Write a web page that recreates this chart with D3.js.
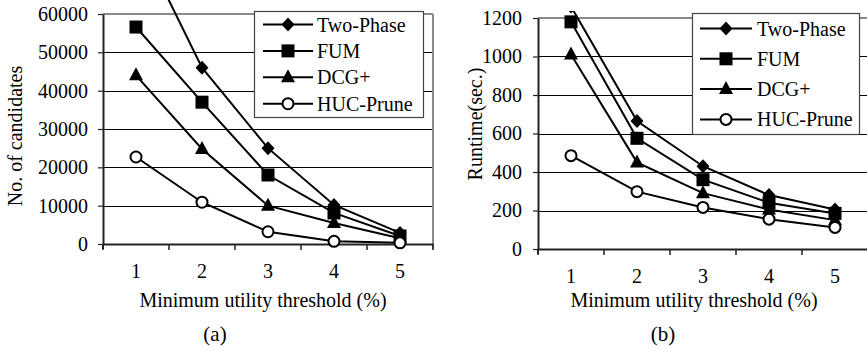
<!DOCTYPE html>
<html>
<head>
<meta charset="utf-8">
<script src="https://cdn.jsdelivr.net/npm/d3@7"></script>
<style>
  html, body { margin: 0; padding: 0; background: #fff; }
  svg { display: block; font-family: "Liberation Serif", "Times New Roman", serif; }
</style>
</head>
<body>
<svg id="chart" width="867" height="351"></svg>
<script>
// ---------- data ----------
const thresholds = [1, 2, 3, 4, 5];
const seriesNames = ["Two-Phase", "FUM", "DCG+", "HUC-Prune"];
const markerTypes = ["diamond", "square", "triangle", "circle"];

// (a) No. of candidates
const twoPhaseCand = [81000, 46000, 25000, 10200, 2900];
const fumCand      = [56600, 37000, 18000, 8100, 2100];
const dcgCand      = [44000, 24800, 10000, 5500, 1500];
const hucCand      = [22700, 10900, 3200, 700, 300];
const candTicks    = [0, 10000, 20000, 30000, 40000, 50000, 60000];

// (b) Runtime (sec.)
const twoPhaseTime = [1260, 665, 430, 280, 205];
const fumTime      = [1180, 575, 360, 240, 185];
const dcgTime      = [1010, 450, 290, 205, 150];
const hucTime      = [485, 298, 216, 155, 112];
const timeTicks    = [0, 200, 400, 600, 800, 1000, 1200];

const xLabel = "Minimum utility threshold (%)";

const svg = d3.select("#chart");

function drawMarker(g, type, cx, cy) {
  if (type === "diamond") {
    g.append("path").attr("d", `M${cx},${cy-7}L${cx+6.5},${cy}L${cx},${cy+7}L${cx-6.5},${cy}Z`).attr("fill", "#000");
  } else if (type === "square") {
    g.append("rect").attr("x", cx-6.5).attr("y", cy-6.5).attr("width", 13).attr("height", 13).attr("fill", "#000");
  } else if (type === "triangle") {
    g.append("path").attr("d", `M${cx},${cy-8}L${cx+7},${cy+5}L${cx-7},${cy+5}Z`).attr("fill", "#000");
  } else {
    g.append("circle").attr("cx", cx).attr("cy", cy).attr("r", 5.5).attr("fill", "#fff").attr("stroke", "#000").attr("stroke-width", 2);
  }
}

function drawChart(cfg) {
  const g = svg.append("g");
  const x = d3.scaleBand().domain(thresholds).range([cfg.left, cfg.right]).paddingInner(0).paddingOuter(0);
  const y = d3.scaleLinear().domain([0, cfg.max]).range([cfg.bottom, cfg.top]);
  const cx = d => x(d) + x.bandwidth() / 2;

  // gridlines
  g.append("g").selectAll("line").data(cfg.ticks.filter(t => t > 0 && t < cfg.max)).join("line")
    .attr("x1", cfg.left).attr("x2", cfg.right)
    .attr("y1", d => Math.round(y(d)) + 0.5).attr("y2", d => Math.round(y(d)) + 0.5)
    .attr("stroke", "#000").attr("stroke-width", 1);
  // top border
  g.append("line").attr("x1", cfg.left).attr("x2", cfg.right)
    .attr("y1", y(cfg.max)).attr("y2", y(cfg.max))
    .attr("stroke", "#8a8a8a").attr("stroke-width", 2);
  // right border
  g.append("line").attr("x1", cfg.right).attr("x2", cfg.right)
    .attr("y1", y(cfg.max)).attr("y2", cfg.bottom + 5)
    .attr("stroke", "#8a8a8a").attr("stroke-width", 2);

  // y axis
  const yAxis = d3.axisLeft(y).tickValues(cfg.ticks).tickFormat(d3.format("d"))
    .tickSize(5).tickPadding(cfg.tickPad).tickSizeOuter(0);
  const ya = g.append("g").attr("transform", `translate(${cfg.left},0)`).call(yAxis);
  ya.select(".domain").attr("stroke", "#222").attr("stroke-width", 2);
  ya.selectAll(".tick line").attr("stroke", "#222").attr("stroke-width", 1.2);
  ya.selectAll(".tick text").attr("font-size", 20).attr("fill", "#000")
    .attr("font-family", "Liberation Serif");
  g.append("line").attr("x1", cfg.left).attr("x2", cfg.left)
    .attr("y1", cfg.bottom).attr("y2", cfg.bottom + 5)
    .attr("stroke", "#222").attr("stroke-width", 2);

  // x axis: labels at band centers, ticks at band edges
  const xa = g.append("g").attr("transform", `translate(0,${cfg.bottom})`)
    .call(d3.axisBottom(x).tickSize(0).tickPadding(cfg.xTickPad).tickSizeOuter(0));
  xa.select(".domain").attr("stroke", "#222").attr("stroke-width", 2);
  xa.selectAll(".tick text").attr("font-size", 20).attr("fill", "#000")
    .attr("font-family", "Liberation Serif");
  const edges = thresholds.map(d => x(d)).concat([x(thresholds[thresholds.length - 1]) + x.bandwidth()]);
  g.append("g").selectAll("line").data(edges).join("line")
    .attr("x1", d => d).attr("x2", d => d)
    .attr("y1", cfg.bottom).attr("y2", cfg.bottom + 6)
    .attr("stroke", "#222").attr("stroke-width", 1.5);

  // axis titles
  g.append("text").attr("x", cfg.xTitleX).attr("y", 307).attr("text-anchor", "middle")
    .attr("font-size", 20).text(xLabel);
  g.append("text").attr("transform", `translate(${cfg.yTitleX},${cfg.yTitleY}) rotate(-90)`)
    .attr("text-anchor", "middle").attr("dy", "0.35em").attr("font-size", 20).text(cfg.yTitle);
  g.append("text").attr("x", cfg.capX).attr("y", 341).attr("text-anchor", "middle")
    .attr("font-size", 21).text(cfg.caption);

  // series
  const clipId = "clip" + cfg.caption.replace(/\W/g, "");
  svg.append("clipPath").attr("id", clipId).append("rect")
    .attr("x", 0).attr("y", cfg.clipTop).attr("width", 867).attr("height", 351);
  const sg = g.append("g").attr("clip-path", `url(#${clipId})`);
  const line = d3.line().x((d, i) => cx(thresholds[i])).y(d => y(d));
  cfg.series.forEach((vals, si) => {
    sg.append("path").datum(vals).attr("d", line).attr("fill", "none")
      .attr("stroke", "#000").attr("stroke-width", 2);
  });
  cfg.series.forEach((vals, si) => {
    const mg = sg.append("g");
    vals.forEach((v, i) => drawMarker(mg, markerTypes[si], cx(thresholds[i]), y(v)));
  });

  // legend
  const L = cfg.legend;
  const lg = g.append("g");
  lg.append("rect").attr("x", L.x0 + 0.5).attr("y", L.y0 + 0.5)
    .attr("width", L.x1 - L.x0).attr("height", L.y1 - L.y0)
    .attr("fill", "#fff").attr("stroke", "#444").attr("stroke-width", 1.2);
  seriesNames.forEach((name, i) => {
    const yy = L.firstY + i * L.step;
    lg.append("line").attr("x1", L.lineX0).attr("x2", L.lineX1).attr("y1", yy).attr("y2", yy)
      .attr("stroke", "#000").attr("stroke-width", 2);
    drawMarker(lg, markerTypes[i], (L.lineX0 + L.lineX1) / 2, yy);
    lg.append("text").attr("x", L.textX).attr("y", yy).attr("dy", "0.35em")
      .attr("font-size", 20).text(name);
  });
}

drawChart({
  left: 103, right: 433, top: 14, bottom: 244, max: 60000, ticks: candTicks,
  tickPad: 10, xTickPad: 20, series: [twoPhaseCand, fumCand, dcgCand, hucCand],
  yTitle: "No. of candidates", yTitleX: 15, yTitleY: 136,
  xTitleX: 263, capX: 215, caption: "(a)", clipTop: -100,
  legend: { x0: 254, x1: 423, y0: 11, y1: 117, firstY: 24.5, step: 26.4, lineX0: 263, lineX1: 313, textX: 317 }
});

drawChart({
  left: 538, right: 868, top: 18, bottom: 249, max: 1200, ticks: timeTicks,
  tickPad: 11, xTickPad: 20, series: [twoPhaseTime, fumTime, dcgTime, hucTime],
  yTitle: "Runtime(sec.)", yTitleX: 475, yTitleY: 124,
  xTitleX: 694, capX: 663, caption: "(b)", clipTop: 11,
  legend: { x0: 692, x1: 859, y0: 13, y1: 134, firstY: 28.5, step: 30.3, lineX0: 700, lineX1: 752, textX: 757 }
});
</script>
</body>
</html>
